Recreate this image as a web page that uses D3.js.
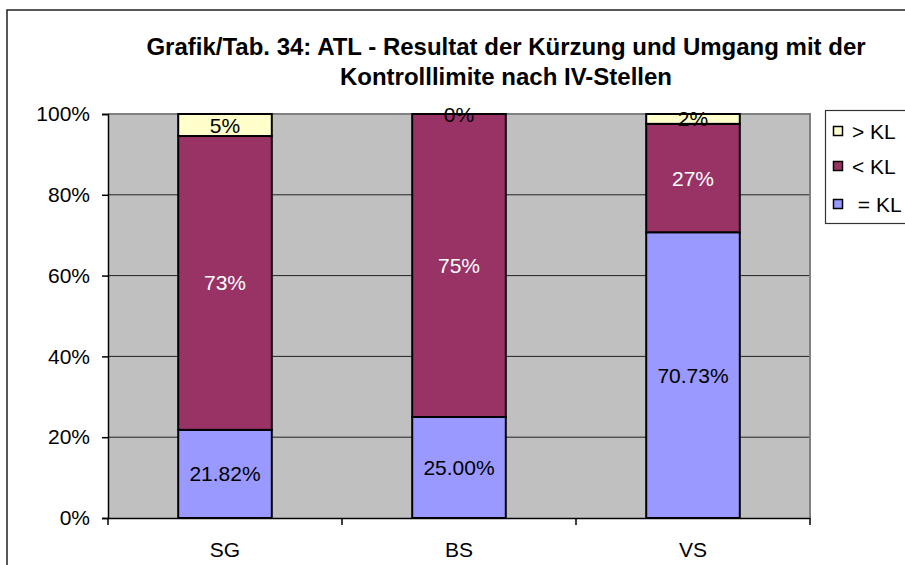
<!DOCTYPE html>
<html><head><meta charset="utf-8">
<script src="https://cdn.jsdelivr.net/npm/d3@7"></script>
<style>body{margin:0;background:#fff}svg{display:block}text{font-family:"Liberation Sans",Arial,sans-serif}</style>
</head><body>
<svg id="c" width="905" height="565"></svg>
<script>
const titleLines = ["Grafik/Tab. 34: ATL - Resultat der Kürzung und Umgang mit der", "Kontrolllimite nach IV-Stellen"];
const categories = ["SG", "BS", "VS"];
const seriesNames = ["= KL", "< KL", "> KL"];
const legendLabels = ["> KL", "< KL", " = KL"];
const eqKL = [0.2182, 0.2500, 0.7073];
const ltKL = [0.7273, 0.7500, 0.2683];
const gtKL = [0.0545, 0.0000, 0.0244];
const yTicks = [0, 0.2, 0.4, 0.6, 0.8, 1.0];
const colors = ["#9999FF", "#993366", "#FFFFCC"];
const labelColors = ["#000", "#fff", "#000"];
const labelFormats = [".2%", ".0%", ".0%"];

const svg = d3.select("#c");
const L = 108, R = 810, T = 114, B = 518;
const FS = 21;

// frame
svg.append("path").attr("d", "M7,565 V10 H905").attr("fill", "none").attr("stroke", "#222").attr("stroke-width", 1.5);

// title
const title = svg.append("g");
titleLines.forEach((t, i) => {
  title.append("text").attr("x", 506).attr("y", 55 + i * 29.5).attr("text-anchor", "middle")
    .attr("font-size", 24).attr("font-weight", "bold").attr("fill", "#000").text(t);
});

const x = d3.scaleBand().domain(categories).range([L, R]).paddingInner(0.6).paddingOuter(0.3);
const y = d3.scaleLinear().domain([0, 1]).range([B, T]);

// plot background
svg.append("rect").attr("x", L).attr("y", T).attr("width", R - L).attr("height", B - T).attr("fill", "#C0C0C0");
// gridlines
svg.append("g").selectAll("line").data(yTicks.filter(d => d > 0 && d < 1)).join("line")
  .attr("x1", L).attr("x2", R).attr("y1", d => y(d)).attr("y2", d => y(d))
  .attr("stroke", "#222").attr("stroke-width", 1);
// plot border top/right
svg.append("path").attr("d", `M${L},${T} H${R} V${B}`).attr("fill", "none").attr("stroke", "#808080").attr("stroke-width", 2);

// stack
const table = categories.map((c, i) => ({cat: c, "= KL": eqKL[i], "< KL": ltKL[i], "> KL": gtKL[i]}));
const stack = d3.stack().keys(seriesNames)(table);

const gBars = svg.append("g");
stack.forEach((s, si) => {
  gBars.append("g").selectAll("rect").data(s).join("rect")
    .attr("x", d => x(d.data.cat)).attr("width", x.bandwidth())
    .attr("y", d => y(d[1])).attr("height", d => y(d[0]) - y(d[1]))
    .attr("fill", colors[si]).attr("stroke", "#000").attr("stroke-width", 2);
});
stack.forEach((s, si) => {
  gBars.append("g").selectAll("text").data(s).join("text")
    .attr("x", d => x(d.data.cat) + x.bandwidth() / 2)
    .attr("y", d => (y(d[0]) + y(d[1])) / 2).attr("dy", "0.36em")
    .attr("text-anchor", "middle").attr("font-size", FS).attr("fill", labelColors[si])
    .text(d => d3.format(labelFormats[si])(d[1] - d[0]));
});

// y axis
const yAxis = d3.axisLeft(y).tickValues(yTicks).tickFormat(d3.format(".0%")).tickSize(6).tickPadding(12);
const gy = svg.append("g").attr("transform", `translate(${L},0)`).call(yAxis);
gy.select(".domain").attr("stroke", "#000").attr("stroke-width", 1.5);
gy.selectAll(".tick line").attr("stroke", "#000").attr("stroke-width", 1.5);
gy.selectAll("text").attr("font-size", FS).attr("fill", "#000").attr("font-family", '"Liberation Sans",Arial,sans-serif');

// x axis
const xAxis = d3.axisBottom(x).tickSize(0).tickPadding(0);
const gx = svg.append("g").attr("transform", `translate(0,${B})`).call(xAxis);
gx.select(".domain").attr("stroke", "#000").attr("stroke-width", 1.5);
gx.selectAll(".tick text").attr("font-size", FS).attr("fill", "#000").attr("y", 39).attr("dy", 0)
  .attr("font-family", '"Liberation Sans",Arial,sans-serif');
const bounds = [...categories.map(c => x(c) - x.step() * x.paddingInner() / 2), R];
gx.append("g").selectAll("line").data(bounds).join("line")
  .attr("x1", d => d).attr("x2", d => d).attr("y1", 0).attr("y2", 7).attr("stroke", "#000").attr("stroke-width", 1.5);

// legend
const lg = svg.append("g");
lg.append("rect").attr("x", 825.5).attr("y", 110.5).attr("width", 90).attr("height", 113)
  .attr("fill", "#fff").attr("stroke", "#333").attr("stroke-width", 1.2);
const legendColors = [colors[2], colors[1], colors[0]];
const legendY = [131, 166, 204];
legendLabels.forEach((t, i) => {
  lg.append("rect").attr("x", 833.5).attr("y", legendY[i] - 4.5).attr("width", 9).attr("height", 9)
    .attr("fill", legendColors[i]).attr("stroke", "#000").attr("stroke-width", 1.5);
  lg.append("text").attr("x", 852).attr("y", legendY[i]).attr("dy", "0.36em")
    .attr("font-size", FS).attr("fill", "#000").style("white-space", "pre").text(t);
});
</script>
</body></html>
